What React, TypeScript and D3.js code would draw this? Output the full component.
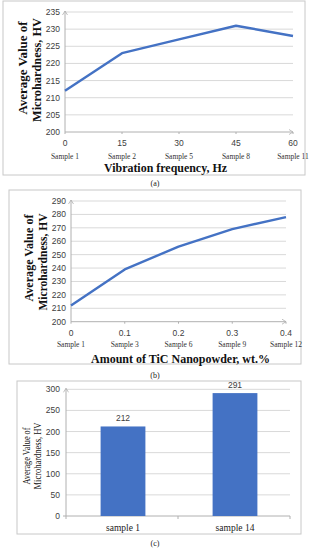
import React from "react";
import * as d3 from "d3";

const freqX = [0, 15, 30, 45, 60];
const freqSamples = ["Sample 1", "Sample 2", "Sample 5", "Sample 8", "Sample 11"];
const freqValues = [212, 223, 227, 231, 228];
const freqTicks = [200, 205, 210, 215, 220, 225, 230, 235];

const ticX = [0, 0.1, 0.2, 0.3, 0.4];
const ticSamples = ["Sample 1", "Sample 3", "Sample 6", "Sample 9", "Sample 12"];
const ticValues = [212, 239, 256, 269, 278];
const ticTicks = [200, 210, 220, 230, 240, 250, 260, 270, 280, 290];

const barCats = ["sample 1", "sample 14"];
const barValues = [212, 291];
const barTicks = [0, 50, 100, 150, 200, 250, 300];

const BLUE = "#4472C4";
const GRID = "#d9d9d9";
const AXIS = "#b0b0b0";
const TICKTXT = "#404040";
const SANS = "'Liberation Sans', Arial, sans-serif";
const SERIF = "'Liberation Serif', 'Times New Roman', serif";

type LineProps = {
  frame: [number, number, number, number];
  plot: [number, number, number, number];
  xs: number[];
  ys: number[];
  samples: string[];
  yTicks: number[];
  tickY: number;
  sampleY: number;
  titleX: number;
  titleY: number;
  titleLen: number;
  title: string;
  yTitleX: [number, number];
  yTitleY: [number, number];
  yTitleLen: [number, number];
  yFont: number;
};

function Arrow({ x, y, dir }: { x: number; y: number; dir: "up" | "right" }) {
  const d = dir === "up"
    ? `M${x - 2.5},${y + 4} L${x},${y} L${x + 2.5},${y + 4}`
    : `M${x - 4},${y - 2.5} L${x},${y} L${x - 4},${y + 2.5}`;
  return <path d={d} fill="none" stroke={AXIS} strokeWidth={0.8} />;
}

function LinePanel(p: LineProps) {
  const [fx0, fy0, fx1, fy1] = p.frame;
  const [x0, y0, x1, y1] = p.plot;
  const x = d3.scaleLinear().domain([p.xs[0], p.xs[p.xs.length - 1]]).range([x0, x1]);
  const y = d3.scaleLinear().domain([p.yTicks[0], p.yTicks[p.yTicks.length - 1]]).range([y1, y0]);
  const line = d3.line<number>().x((_, i) => x(p.xs[i])).y((d) => y(d));
  return (
    <g>
      <rect x={fx0} y={fy0} width={fx1 - fx0} height={fy1 - fy0} fill="white" stroke="#c8c8c8" strokeWidth={1} />
      {p.yTicks.slice(1).map((t) => (
        <line key={t} x1={x0} x2={x1} y1={y(t)} y2={y(t)} stroke={GRID} strokeWidth={1} />
      ))}
      <line x1={x0} x2={x0} y1={y1} y2={y0 - 1} stroke={AXIS} strokeWidth={1} />
      <line x1={x0} x2={x1} y1={y1} y2={y1} stroke={AXIS} strokeWidth={1} />
      <Arrow x={x0} y={y0 - 1} dir="up" />
      <Arrow x={x1} y={y1} dir="right" />
      {p.xs.map((v) => (
        <line key={v} x1={x(v)} x2={x(v)} y1={y1} y2={y1 + 2} stroke={AXIS} />
      ))}
      {p.yTicks.map((t) => (
        <text key={t} x={x0 - 5} y={y(t)} dy="0.35em" textAnchor="end" fontSize={8.5} fill={TICKTXT} fontFamily={SANS}>{t}</text>
      ))}
      {p.xs.map((v) => (
        <text key={v} x={x(v)} y={p.tickY} dy="0.35em" textAnchor="middle" fontSize={8.5} fill={TICKTXT} fontFamily={SANS}>{String(v)}</text>
      ))}
      {p.xs.map((v, i) => (
        <text key={v} x={x(v)} y={p.sampleY} dy="0.35em" textAnchor="middle" fontSize={7.5} fill="#333" fontFamily={SERIF}>{p.samples[i]}</text>
      ))}
      <path d={line(p.ys) || ""} fill="none" stroke={BLUE} strokeWidth={2.4} strokeLinejoin="round" />
      <text x={p.titleX} y={p.titleY} dy="0.35em" textAnchor="middle" fontSize={13.5} fontWeight="bold" fill="#111" fontFamily={SERIF} textLength={p.titleLen} lengthAdjust="spacingAndGlyphs">{p.title}</text>
      <text transform={`translate(${p.yTitleX[0]},${p.yTitleY[0]}) rotate(-90)`} dy="0.35em" textAnchor="middle" fontSize={p.yFont} fontWeight="bold" fill="#111" fontFamily={SERIF} textLength={p.yTitleLen[0]} lengthAdjust="spacingAndGlyphs">Average Value of</text>
      <text transform={`translate(${p.yTitleX[1]},${p.yTitleY[1]}) rotate(-90)`} dy="0.35em" textAnchor="middle" fontSize={p.yFont} fontWeight="bold" fill="#111" fontFamily={SERIF} textLength={p.yTitleLen[1]} lengthAdjust="spacingAndGlyphs">Microhardness, HV</text>
    </g>
  );
}

function BarPanel() {
  const frame = [17, 381, 301, 534];
  const [x0, y0, x1, y1] = [66, 389.3, 290, 516];
  const x = d3.scaleBand<string>().domain(barCats).range([x0 + 1, x1 + 1]).padding(0);
  const y = d3.scaleLinear().domain([0, 300]).range([y1, y0]);
  const bw = x.bandwidth() * 0.4;
  return (
    <g>
      <rect x={frame[0]} y={frame[1]} width={frame[2] - frame[0]} height={frame[3] - frame[1]} fill="white" stroke="#c8c8c8" strokeWidth={1} />
      {barTicks.slice(1).map((t) => (
        <line key={t} x1={x0} x2={x1} y1={y(t)} y2={y(t)} stroke={GRID} strokeWidth={1} />
      ))}
      <line x1={x0} x2={x0} y1={y1} y2={y0 - 1} stroke={AXIS} strokeWidth={1} />
      <Arrow x={x0} y={y0 - 1} dir="up" />
      <line x1={x0 - 3} x2={x1} y1={y1} y2={y1} stroke={AXIS} strokeWidth={1} />
      {[x0, (x0 + x1) / 2, x1].map((v, i) => (
        <line key={i} x1={v} x2={v} y1={y1} y2={y1 + 3} stroke={AXIS} />
      ))}
      {barTicks.map((t) => (
        <text key={t} x={x0 - 6} y={y(t)} dy="0.35em" textAnchor="end" fontSize={8.5} fill={TICKTXT} fontFamily={SANS}>{t}</text>
      ))}
      {barCats.map((c, i) => {
        const cx = (x(c) as number) + x.bandwidth() / 2;
        return (
          <g key={c}>
            <rect x={cx - bw / 2} y={y(barValues[i])} width={bw} height={y1 - y(barValues[i])} fill={BLUE} />
            <text x={cx} y={y(barValues[i]) - 8} dy="0.35em" textAnchor="middle" fontSize={8.5} fill={TICKTXT} fontFamily={SANS}>{barValues[i]}</text>
            <text x={cx} y={528} dy="0.35em" textAnchor="middle" fontSize={9.5} fill="#222" fontFamily={SERIF}>{c}</text>
          </g>
        );
      })}
      <text transform={`translate(26,456) rotate(-90)`} dy="0.35em" textAnchor="middle" fontSize={10} fill="#111" fontFamily={SERIF} textLength={57} lengthAdjust="spacingAndGlyphs">Average Value of</text>
      <text transform={`translate(37,456) rotate(-90)`} dy="0.35em" textAnchor="middle" fontSize={10} fill="#111" fontFamily={SERIF} textLength={67} lengthAdjust="spacingAndGlyphs">Microhardness, HV</text>
    </g>
  );
}

export default function App() {
  return (
    <svg width={309} height={550} style={{ position: "absolute", left: 0, top: 0, background: "white" }}>
      <LinePanel
        frame={[3, 1, 305, 175]}
        plot={[65, 12, 293, 132]}
        xs={freqX}
        ys={freqValues}
        samples={freqSamples}
        yTicks={freqTicks}
        tickY={143}
        sampleY={156}
        titleX={165.5}
        titleY={167}
        titleLen={123}
        title="Vibration frequency, Hz"
        yTitleX={[22, 36]}
        yTitleY={[68, 70]}
        yTitleLen={[93, 104]}
        yFont={13.5}
      />
      <text x={155} y={183} dy="0.35em" textAnchor="middle" fontSize={8} fill="#222" fontFamily={SERIF}>(a)</text>
      <LinePanel
        frame={[9, 190, 301, 364]}
        plot={[71, 201, 286, 321.7]}
        xs={ticX}
        ys={ticValues}
        samples={ticSamples}
        yTicks={ticTicks}
        tickY={332.7}
        sampleY={344}
        titleX={180.5}
        titleY={358}
        titleLen={179}
        title="Amount of TiC Nanopowder, wt.%"
        yTitleX={[28, 42]}
        yTitleY={[258, 262]}
        yTitleLen={[87, 97]}
        yFont={13}
      />
      <text x={155} y={375} dy="0.35em" textAnchor="middle" fontSize={8} fill="#222" fontFamily={SERIF}>(b)</text>
      <BarPanel />
      <text x={155} y={543} dy="0.35em" textAnchor="middle" fontSize={8} fill="#222" fontFamily={SERIF}>(c)</text>
    </svg>
  );
}
